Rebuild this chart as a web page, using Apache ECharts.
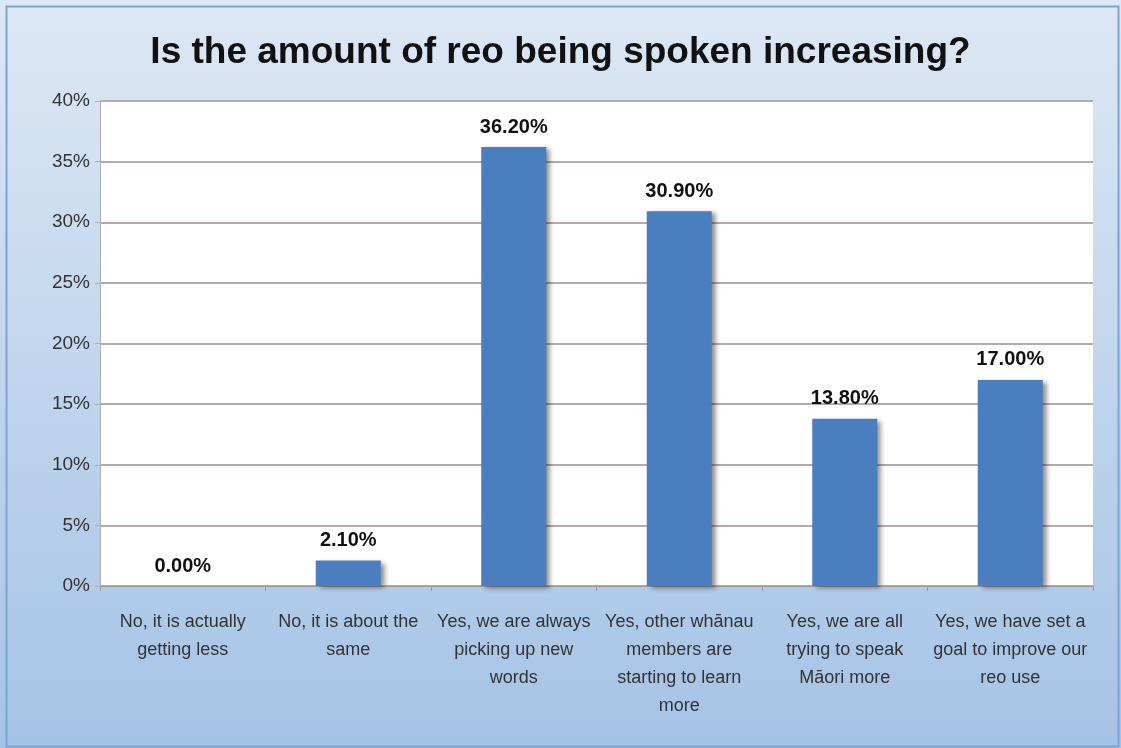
<!DOCTYPE html>
<html><head><meta charset="utf-8">
<script src="https://cdn.jsdelivr.net/npm/echarts@6/dist/echarts.min.js"></script>
<style>html,body{margin:0;padding:0;background:#fff}#c{width:1121px;height:748px}</style>
</head><body><div id="c"></div>
<script>
const categories = [
  "No, it is actually\ngetting less",
  "No, it is about the\nsame",
  "Yes, we are always\npicking up new\nwords",
  "Yes, other whānau\nmembers are\nstarting to learn\nmore",
  "Yes, we are all\ntrying to speak\nMāori more",
  "Yes, we have set a\ngoal to improve our\nreo use"
];
const values = [0.0, 2.1, 36.2, 30.9, 13.8, 17.0];
const yTicks = [0, 5, 10, 15, 20, 25, 30, 35, 40];

const chart = echarts.init(document.getElementById('c'));
chart.setOption({
  backgroundColor: {
    type: 'linear', x: 0, y: 0, x2: 0, y2: 1,
    colorStops: [{offset: 0, color: '#dde8f5'}, {offset: 1, color: '#a5c3e6'}]
  },
  graphic: [{
    type: 'rect', left: 4, top: 4, shape: {width: 1112, height: 740},
    style: {fill: 'none', stroke: '#7fa3d1', lineWidth: 2}, silent: true
  }],
  title: {
    text: 'Is the amount of reo being spoken increasing?',
    left: 'center', top: 29,
    textStyle: {fontFamily: 'Liberation Sans, Arial, sans-serif', fontSize: 37, fontWeight: 'bold', color: '#111'}
  },
  grid: {left: 100, right: 28, top: 101, bottom: 162, show: true, backgroundColor: '#ffffff', borderWidth: 0},
  xAxis: {
    type: 'category', data: categories,
    axisLine: {show: true, lineStyle: {color: '#9a9a9a', width: 1}},
    axisTick: {show: true, alignWithLabel: false, length: 5, lineStyle: {color: '#9a9a9a'}},
    axisLabel: {interval: 0, margin: 22, fontFamily: 'Liberation Sans, Arial, sans-serif', fontSize: 18, color: '#333', lineHeight: 28, align: 'center'}
  },
  yAxis: {
    type: 'value', min: 0, max: 40, interval: 5,
    axisLine: {show: true, lineStyle: {color: '#b0b0b0'}},
    axisTick: {show: true, length: 5, lineStyle: {color: '#b0b0b0'}},
    splitLine: {show: true, lineStyle: {color: '#b9a9a6', width: 2}},
    axisLabel: {margin: 10, formatter: v => yTicks.includes(v) ? v + '%' : '', fontFamily: 'Liberation Sans, Arial, sans-serif', fontSize: 19, color: '#333'}
  },
  series: [{
    type: 'bar', data: values, barWidth: 65,
    itemStyle: {color: '#4a7ebf', shadowColor: 'rgba(0,0,0,0.45)', shadowBlur: 5, shadowOffsetX: 4, shadowOffsetY: 2},
    label: {show: true, position: 'top', distance: 10, formatter: p => p.value.toFixed(2) + '%',
      fontFamily: 'Liberation Sans, Arial, sans-serif', fontSize: 20, fontWeight: 'bold', color: '#111'}
  }]
});
</script></body></html>
